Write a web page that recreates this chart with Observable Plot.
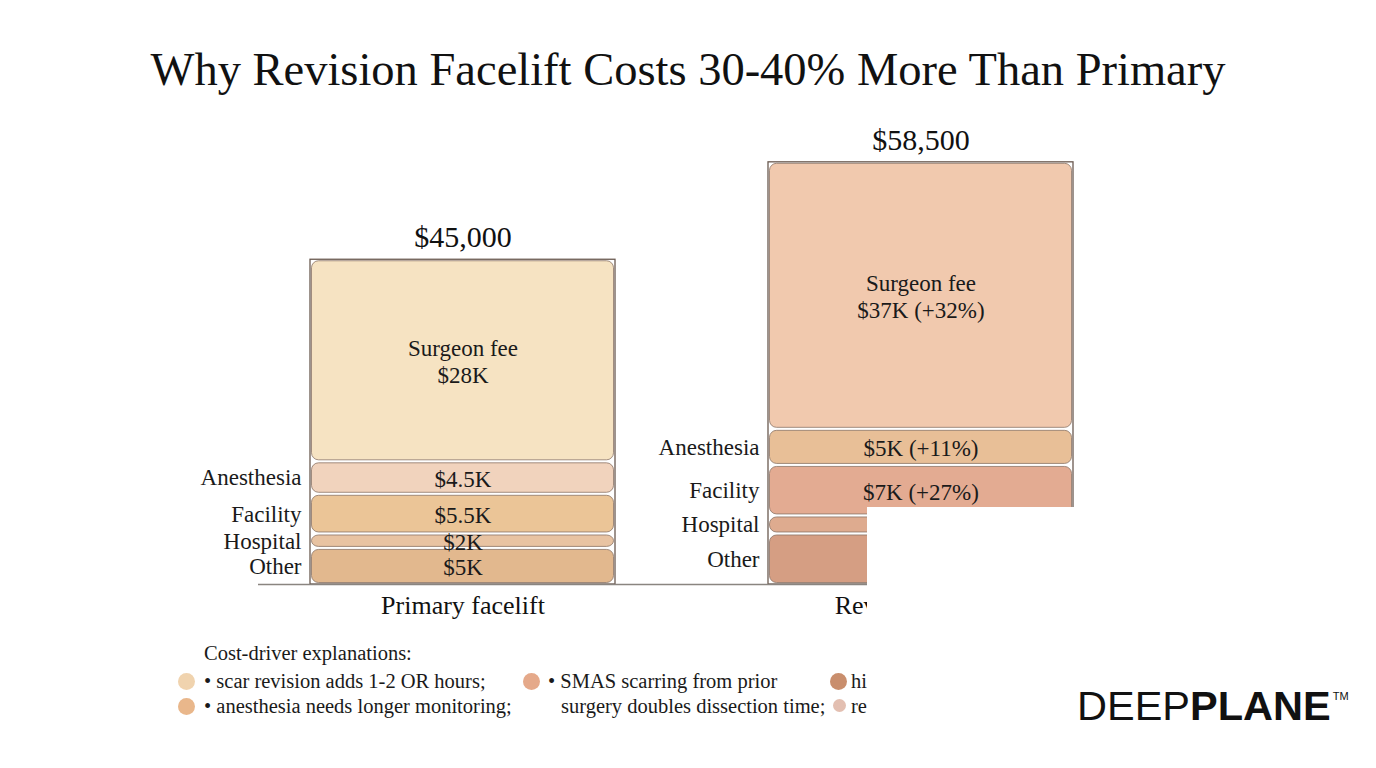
<!DOCTYPE html>
<html>
<head>
<meta charset="utf-8">
<script src="https://cdn.jsdelivr.net/npm/d3@7"></script>
<script src="https://cdn.jsdelivr.net/npm/@observablehq/plot@0.6"></script>
<style>
  html, body { margin: 0; padding: 0; background: #fff; }
  #page { position: relative; width: 1376px; height: 768px; overflow: hidden; font-family: "Liberation Serif", serif; color: #1a1a1a; }
  #title { position: absolute; left: 0; top: 40px; width: 1376px; text-align: center; font-size: 46.5px; line-height: 60px; color: #111; }
  #chart { position: absolute; left: 0; top: 100px; }
  #legend { position: absolute; left: 0; top: 640px; width: 1376px; height: 100px; font-size: 20.5px; }
  .lg { position: absolute; white-space: nowrap; line-height: 24px; }
  .dot { position: absolute; width: 17px; height: 17px; border-radius: 50%; filter: blur(0.6px); }
  #patch { position: absolute; left: 867px; top: 507px; width: 270px; height: 222px; background: #fff; }
  #logo { position: absolute; left: 1077px; top: 681px; font-family: "Liberation Sans", Arial, sans-serif; font-size: 41.5px; line-height: 50px; color: #111; letter-spacing: 0px; text-shadow: 0 0 3px #fff, 0 0 3px #fff; z-index: 3; }
  #logo b { font-weight: 700; }
  #logo sup { font-size: 11px; position: relative; top: -20px; vertical-align: baseline; margin-left: 2px; font-weight: 400; }
</style>
</head>
<body>
<div id="page">
  <div id="title">Why Revision Facelift Costs 30-40% More Than Primary</div>
  <div id="chart"></div>
  <div id="patch"></div>
  <div id="legend"></div>
  <div id="logo">DEEP<b>PLANE</b><sup>TM</sup></div>
</div>
<script>
// ---- data ----
const bars = ["Primary facelift", "Revision facelift"];
const totals = [45000, 58500];
const totalLabels = ["$45,000", "$58,500"];
// stacking order from bottom to top
const components = ["Other", "Hospital", "Facility", "Anesthesia", "Surgeon fee"];
const primaryValues = [5000, 2000, 5500, 4500, 28000];
const revisionValues = [7000, 2500, 7000, 5000, 37000];
const primaryLabels = ["$5K", "$2K", "$5.5K", "$4.5K", "Surgeon fee\n$28K"];
const revisionLabels = ["$7K", "$2.5K", "$7K (+27%)", "$5K (+11%)", "Surgeon fee\n$37K (+32%)"];
const primaryColors = ["#e2b88e", "#e8c3a2", "#ebc597", "#f1d3bd", "#f6e3c2"];
const revisionColors = ["#d59e83", "#deab8f", "#e3ab92", "#e8bf97", "#f1c9ae"];

const legendTitle = "Cost-driver explanations:";
const legendItems = [
  {text: "• scar revision adds 1-2 OR hours;", color: "#f0d3ae"},
  {text: "• anesthesia needs longer monitoring;", color: "#e9b78b"},
  {text: "• SMAS scarring from prior\nsurgery doubles dissection time;", color: "#e5a98a"},
  {text: "hi", color: "#c98e6d"},
  {text: "re", color: "#e3bfb1"}
];

// ---- build table ----
const rows = [];
[[primaryValues, primaryLabels, primaryColors], [revisionValues, revisionLabels, revisionColors]].forEach(([vals, labs, cols], b) => {
  let acc = 0;
  vals.forEach((v, i) => {
    rows.push({bar: bars[b], component: components[i], value: v, y1: acc, y2: acc + v, mid: acc + v / 2, label: labs[i], color: cols[i]});
    acc += v;
  });
});
const totalRows = bars.map((b, i) => ({bar: b, total: totals[i], label: totalLabels[i]}));

const bandwidthApprox = 305;
const chart = Plot.plot({
  width: 1376,
  height: 540,
  marginLeft: 258,
  marginRight: 251,
  marginTop: 51,
  marginBottom: 56,
  style: {fontFamily: "Liberation Serif, serif", background: "transparent", color: "#1a1a1a"},
  x: {domain: bars, paddingInner: 0.334, paddingOuter: 0.1135, label: null},
  y: {domain: [0, 60000], axis: null},
  color: {type: "identity"},
  marks: [
    Plot.barY(rows, {x: "bar", y1: "y1", y2: "y2", fill: "color", inset: 1.5, rx: 7, stroke: "#8b7466", strokeWidth: 1, strokeOpacity: 0.8}),
    Plot.barY(totalRows, {x: "bar", y1: 0, y2: "total", fill: "none", stroke: "#6a5a50", strokeWidth: 1.3}),
    Plot.ruleY([0], {stroke: "#8a8580", strokeWidth: 1.5}),
    Plot.text(rows, {x: "bar", y: "mid", text: "label", fontSize: 23, lineHeight: 1.2, fill: "#1a1a1a"}),
    Plot.text(rows.filter(d => d.component !== "Surgeon fee"), {x: "bar", y: "mid", text: "component", dx: -(bandwidthApprox / 2) - 9, textAnchor: "end", fontSize: 23, fill: "#1a1a1a"}),
    Plot.text(totalRows, {x: "bar", y: "total", text: "label", dy: -22, fontSize: 30, fill: "#111"}),
    Plot.axisX({tickSize: 0, tickPadding: 11, fontSize: 26, label: null})
  ]
});
chart.querySelectorAll("[aria-label='x-axis tick label'] text").forEach(t => t.setAttribute("fill", "#111"));
document.getElementById("chart").appendChild(chart);

// ---- legend ----
const lg = document.getElementById("legend");
function add(html, left, top, cls) {
  const d = document.createElement("div");
  d.className = cls; d.style.left = left + "px"; d.style.top = top + "px";
  d.textContent = html; lg.appendChild(d); return d;
}
add(legendTitle, 204, 1, "lg");
const pos = [
  {dx: 178, dy: 33, tx: 204, ty: 29},
  {dx: 178, dy: 58, tx: 204, ty: 54},
  {dx: 523, dy: 33, tx: 548, ty: 29},
  {dx: 830, dy: 33, tx: 851, ty: 29},
  {dx: 833, dy: 59, tx: 851, ty: 54}
];
legendItems.forEach((it, i) => {
  const p = pos[i];
  const dot = document.createElement("div");
  dot.className = "dot"; dot.style.left = p.dx + "px"; dot.style.top = p.dy + "px"; dot.style.background = it.color;
  if (i === 4) { dot.style.width = "13px"; dot.style.height = "13px"; }
  lg.appendChild(dot);
  const lines = it.text.split("\n");
  add(lines[0], p.tx, p.ty, "lg");
  if (lines[1]) add(lines[1], 561, p.ty + 25, "lg");
});
</script>
</body>
</html>
